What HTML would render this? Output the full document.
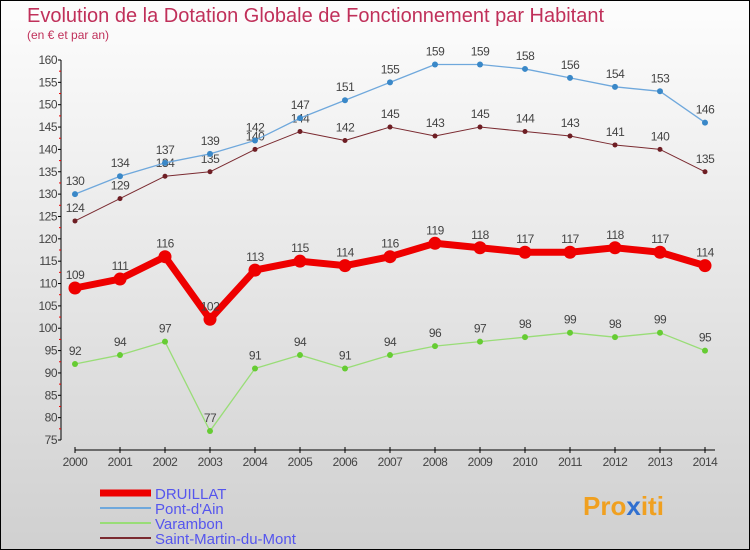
<!DOCTYPE html>
<html><head><meta charset="utf-8"><style>
body{margin:0}
svg{display:block;font-family:"Liberation Sans",sans-serif}
</style></head><body>
<svg width="750" height="550">
<defs><linearGradient id="bg" x1="0" y1="0" x2="0" y2="1"><stop offset="0" stop-color="#fdfdfd"/><stop offset="1" stop-color="#d0d0d0"/></linearGradient></defs>
<rect x="0.5" y="0.5" width="749" height="549" fill="url(#bg)" stroke="#000"/>
<text x="27" y="22" font-size="20" fill="#c0305a">Evolution de la Dotation Globale de Fonctionnement par Habitant</text>
<text x="27" y="39" font-size="12" fill="#c0305a">(en € et par an)</text>
<g id="axes"></g>
<g id="series"></g>
<g id="legend"></g>
<g><text x="583" y="515" font-size="26" font-weight="bold" fill="#f0a020">Pro<tspan fill="#3070d0">x</tspan><tspan fill="#f0a020">iti</tspan></text></g>
</svg>
<script>
const years=["2000","2001","2002","2003","2004","2005","2006","2007","2008","2009","2010","2011","2012","2013","2014"];
const druillat=[109,111,116,102,113,115,114,116,119,118,117,117,118,117,114];
const pontdain=[130,134,137,139,142,147,151,155,159,159,158,156,154,153,146];
const varambon=[92,94,97,77,91,94,91,94,96,97,98,99,98,99,95];
const stmartin=[124,129,134,135,140,144,142,145,143,145,144,143,141,140,135];
const yTicks=[75,80,85,90,95,100,105,110,115,120,125,130,135,140,145,150,155,160];
const NS="http://www.w3.org/2000/svg";
function X(i){return 75+i*45;}
function Y(v){return 440-(v-75)*380/85;}
function mk(tag,attrs,parent,txt){const e=document.createElementNS(NS,tag);for(const k in attrs)e.setAttribute(k,attrs[k]);if(txt!==undefined)e.textContent=txt;parent.appendChild(e);return e;}
const ax=document.getElementById('axes');
let e=mk('line',{x1:61,y1:Y(160),x2:61,y2:Y(75),stroke:'#000'},ax);


e=mk('line',{x1:75,y1:450,x2:715,y2:450,stroke:'#000'},ax);


yTicks.forEach(v=>{
 mk('line',{x1:58,x2:61,y1:Y(v),y2:Y(v),stroke:'#000'},ax);
 if(v<160)mk('line',{x1:59,x2:61,y1:Y(v+2.5),y2:Y(v+2.5),stroke:'#e00'},ax);
 e=mk('text',{x:57,y:Y(v)+4,'font-size':12,'text-anchor':'end',fill:'#444','letter-spacing':'-0.5'},ax,v);
 
 
});
years.forEach((y,i)=>{
 mk('line',{x1:X(i),x2:X(i),y1:447,y2:453,stroke:'#000'},ax);
 e=mk('text',{x:X(i),y:466,'font-size':12,'text-anchor':'middle',fill:'#444','letter-spacing':'-0.5'},ax,y);
 
 
});
const ser=document.getElementById('series');
const defs=[["stmartin",stmartin,"#7a2a30","#6e1e24",1,2.5,"saint-martin-du-mont"],["varambon",varambon,"#99dd77","#66cc33",1.3,3,"varambon"],["pontdain",pontdain,"#6fa8dc","#3a88c8",1.3,3,"pont-d-ain"],["druillat",druillat,"#ee0000","#ee0000",7,6.5,"druillat"]];
defs.forEach(d=>{
 const vals=d[1];
 const g=mk('g',{},ser);
 
 
 const p=mk('polyline',{points:vals.map((v,i)=>X(i)+','+Y(v)).join(' '),fill:'none',stroke:d[2],'stroke-width':d[4],'stroke-linejoin':'round'},g);
 
 
 vals.forEach((v,i)=>{
  const c=mk('circle',{cx:X(i),cy:Y(v),r:d[5],fill:d[3]},g);
  
  
  const t=mk('text',{x:X(i),y:Y(v)-9,'font-size':12,'text-anchor':'middle',fill:'#444','letter-spacing':'-0.5'},g,v);
  
  
 });
});
const lg=document.getElementById('legend');
[["DRUILLAT","#ee0000",7,493],["Pont-d'Ain","#6fa8dc",2,508],["Varambon","#99dd77",2,523],["Saint-Martin-du-Mont","#7a2a30",2,538]].forEach(l=>{
 const g=mk('g',{},lg);
 
 
 mk('line',{x1:100,x2:151,y1:l[3],y2:l[3],stroke:l[1],'stroke-width':l[2]},g);
 mk('text',{x:155,y:l[3]+6,'font-size':15,fill:'#5555ee'},g,l[0]);
});
</script>
</body></html>
